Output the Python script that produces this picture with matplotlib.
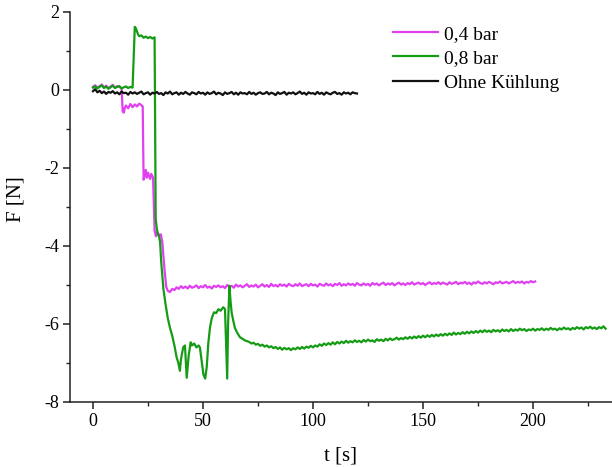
import numpy as np
import matplotlib.pyplot as plt
from matplotlib.ticker import MultipleLocator

plt.rcParams["font.family"] = ["Liberation Serif", "DejaVu Serif"]
plt.rcParams["axes.unicode_minus"] = False

# ---- data ----
labels = ["0,4 bar", "0,8 bar", "Ohne Kühlung"]
colors = ["#E040F0", "#159C15", "#111111"]

# 0,4 bar: start (1 s grid), transition (pairs), plateau (1 s grid from 38 s)
mag_start = [0.08, 0.12, 0.06, 0.10, 0.14, 0.07, 0.11, 0.05, 0.09, 0.13, 0.06, 0.10, 0.08, 0.04]
mag_trans_t = [13.5, 14, 14.5, 15, 16, 17, 18, 19, 20, 21, 22, 22.6, 23, 23.5, 24, 24.5, 25, 26,
               26.5, 27.3, 28, 28.6, 29.3, 30, 30.8, 31.5, 32.5, 33.3, 34, 35, 36, 37]
mag_trans_f = [-0.55, -0.58, -0.45, -0.40, -0.47, -0.36, -0.44, -0.37, -0.42, -0.35, -0.39, -0.42,
               -2.30, -2.20, -2.05, -2.25, -2.12, -2.28, -2.15, -2.25, -3.60, -3.75, -3.65, -3.72,
               -3.70, -3.90, -4.60, -5.05, -5.15, -5.18, -5.10, -5.13]
mag_flat = [-5.06, -5.10, -5.03, -5.08, -5.04, -5.09, -5.02, -5.07, -5.05, -5.01,
            -5.08, -5.03, -5.06, -5.00, -5.07, -5.04, -5.09, -5.02, -5.05, -5.01,
            -5.06, -5.03, -5.08, -5.00, -5.05, -5.02, -5.07, -4.99, -5.04, -5.01,
            -5.06, -5.02, -4.98, -5.05, -5.01, -5.04, -4.99, -5.06, -5.02, -4.98,
            -5.04, -5.00, -5.05, -4.97, -5.03, -5.00, -5.04, -4.98, -5.02, -4.99,
            -5.04, -4.97, -5.01, -5.03, -4.98, -5.02, -4.96, -5.03, -5.00, -4.98,
            -5.03, -4.97, -5.01, -4.99, -5.04, -4.97, -5.00, -5.02, -4.96, -5.01,
            -4.98, -5.03, -4.97, -5.00, -4.95, -5.02, -4.98, -5.01, -4.96, -5.00,
            -4.97, -5.02, -4.95, -4.99, -5.01, -4.96, -5.00, -4.97, -5.02, -4.95,
            -4.99, -4.96, -5.01, -4.97, -4.94, -5.00, -4.96, -4.99, -4.95, -5.01,
            -4.97, -4.94, -4.99, -4.96, -5.00, -4.95, -4.98, -4.93, -4.99, -4.96,
            -4.94, -4.98, -4.95, -5.00, -4.96, -4.93, -4.98, -4.95, -4.97, -4.93,
            -4.98, -4.94, -4.96, -4.99, -4.93, -4.97, -4.95, -4.92, -4.98, -4.94,
            -4.96, -4.92, -4.97, -4.94, -4.99, -4.93, -4.96, -4.91, -4.95, -4.97,
            -4.93, -4.96, -4.92, -4.95, -4.98, -4.93, -4.95, -4.91, -4.96, -4.94,
            -4.92, -4.96, -4.93, -4.90, -4.95, -4.92, -4.94, -4.91, -4.96, -4.92,
            -4.94, -4.90, -4.93, -4.91]

# 0,8 bar
grn_start = [0.06, 0.10, 0.04, 0.08, 0.12, 0.05, 0.09, 0.03, 0.07, 0.11,
             0.05, 0.08, 0.10, 0.04, 0.07, 0.09, 0.05, 0.08, 0.06]
grn_trans_t = [19, 19.5, 20, 20.5, 21, 22, 23, 24, 25, 26, 27, 28, 28.5, 29, 29.5, 30, 30.5,
               31, 32, 33, 34, 35, 36, 37, 38, 38.8, 39.5, 40, 41, 41.8, 42.6, 43.5, 44.4,
               45, 46, 47, 48, 48.6, 49.5, 50.2, 51, 51.7, 52.4, 53.2, 54, 55, 56, 57, 58,
               59.2, 60, 60.5, 61, 61.4, 62, 62.5, 63, 63.7, 64.5, 65.5, 66.8, 68, 69, 70]
grn_trans_f = [1.62, 1.58, 1.50, 1.42, 1.38, 1.40, 1.34, 1.37, 1.33, 1.36, 1.32, 1.35, -3.30,
               -3.55, -3.70, -3.75, -3.90, -4.40, -5.10, -5.50, -5.85, -6.10, -6.30, -6.55,
               -6.85, -7.00, -7.20, -6.90, -6.60, -6.55, -7.38, -6.80, -6.47, -6.55, -6.50,
               -6.60, -6.55, -6.60, -7.00, -7.30, -7.40, -7.10, -6.50, -6.08, -5.85, -5.70,
               -5.72, -5.62, -5.66, -5.57, -5.62, -6.50, -7.40, -6.00, -5.02, -5.40, -5.70,
               -5.90, -6.10, -6.22, -6.34, -6.38, -6.42, -6.44]
grn_flat = [-6.46, -6.50, -6.48, -6.53, -6.51, -6.56, -6.53, -6.58, -6.55, -6.60,
            -6.57, -6.62, -6.59, -6.64, -6.60, -6.66, -6.61, -6.65, -6.62, -6.67,
            -6.62, -6.65, -6.60, -6.64, -6.59, -6.63, -6.58, -6.61, -6.56, -6.60,
            -6.55, -6.58, -6.52, -6.56, -6.50, -6.54, -6.49, -6.53, -6.47, -6.52,
            -6.46, -6.50, -6.45, -6.49, -6.43, -6.48, -6.44, -6.47, -6.42, -6.46,
            -6.43, -6.47, -6.41, -6.45, -6.40, -6.44, -6.42, -6.46, -6.39, -6.43,
            -6.40, -6.44, -6.38, -6.42, -6.37, -6.41, -6.39, -6.35, -6.40, -6.36,
            -6.39, -6.34, -6.38, -6.33, -6.37, -6.32, -6.36, -6.31, -6.35, -6.30,
            -6.34, -6.29, -6.33, -6.28, -6.32, -6.27, -6.31, -6.26, -6.30, -6.25,
            -6.29, -6.24, -6.28, -6.22, -6.27, -6.23, -6.26, -6.21, -6.25, -6.20,
            -6.24, -6.19, -6.23, -6.18, -6.22, -6.17, -6.21, -6.16, -6.20, -6.17,
            -6.21, -6.15, -6.19, -6.16, -6.20, -6.14, -6.18, -6.15, -6.19, -6.13,
            -6.18, -6.14, -6.17, -6.12, -6.16, -6.13, -6.18, -6.14, -6.16, -6.12,
            -6.17, -6.13, -6.15, -6.11, -6.16, -6.12, -6.15, -6.10, -6.14, -6.12,
            -6.16, -6.11, -6.14, -6.09, -6.13, -6.11, -6.15, -6.10, -6.13, -6.08,
            -6.12, -6.09, -6.14, -6.08, -6.11, -6.07, -6.12, -6.09, -6.13, -6.08,
            -6.11, -6.06, -6.12]

# Ohne Kühlung (1 s grid, 0..120 s)
blk = [-0.03, 0.02, -0.06, -0.02, -0.08, -0.04, -0.10, -0.05, -0.07, -0.03,
       -0.09, -0.06, -0.11, -0.04, -0.08, -0.07, -0.12, -0.05, -0.09, -0.06,
       -0.10, -0.07, -0.04, -0.11, -0.08, -0.06, -0.12, -0.07, -0.09, -0.05,
       -0.10, -0.08, -0.13, -0.06, -0.09, -0.04, -0.11, -0.08, -0.06, -0.12,
       -0.07, -0.10, -0.05, -0.09, -0.12, -0.06, -0.08, -0.11, -0.05, -0.09,
       -0.07, -0.12, -0.06, -0.10, -0.08, -0.04, -0.11, -0.07, -0.09, -0.13,
       -0.06, -0.10, -0.08, -0.05, -0.11, -0.07, -0.12, -0.06, -0.09, -0.08,
       -0.11, -0.05, -0.10, -0.07, -0.12, -0.08, -0.06, -0.10, -0.09, -0.05,
       -0.11, -0.07, -0.09, -0.13, -0.06, -0.10, -0.08, -0.05, -0.12, -0.07,
       -0.09, -0.06, -0.11, -0.08, -0.04, -0.10, -0.07, -0.12, -0.06, -0.09,
       -0.08, -0.11, -0.05, -0.10, -0.07, -0.12, -0.06, -0.09, -0.11, -0.07,
       -0.05, -0.10, -0.08, -0.12, -0.06, -0.09, -0.07, -0.11, -0.06, -0.08,
       -0.09]

mag_t = np.concatenate([np.arange(len(mag_start)), mag_trans_t, 38 + np.arange(len(mag_flat))])
mag_f = np.concatenate([mag_start, mag_trans_f, mag_flat])
grn_t = np.concatenate([np.arange(len(grn_start)), grn_trans_t, 71 + np.arange(len(grn_flat))])
grn_f = np.concatenate([grn_start, grn_trans_f, grn_flat])
blk_t = np.arange(len(blk))

fig = plt.figure(figsize=(6.12, 4.67), dpi=100)
ax = fig.add_axes([70 / 612, 65 / 467, 1 - 70 / 612, (402 - 12) / 467])

for (t, f), lab, col in zip([(mag_t, mag_f), (grn_t, grn_f), (blk_t, blk)], labels, colors):
    ax.plot(t, f, color=col, lw=1.6, label=lab)

ax.set_xlim(-10.45, 235.9)
ax.set_ylim(-8, 2)
ax.xaxis.set_major_locator(MultipleLocator(50))
ax.xaxis.set_minor_locator(MultipleLocator(25))
ax.yaxis.set_major_locator(MultipleLocator(2))
ax.yaxis.set_minor_locator(MultipleLocator(1))

for side in ["top", "right"]:
    ax.spines[side].set_visible(False)
for side in ["left", "bottom"]:
    ax.spines[side].set_linewidth(1.1)
    ax.spines[side].set_color("#222222")

ax.tick_params(which="major", direction="out", length=5, width=1.1, color="#222222",
               labelsize=13, pad=3)
ax.tick_params(which="minor", direction="out", length=3, width=1.0, color="#222222")

ax.set_xlabel("t [s]", fontsize=15)
ax.set_ylabel("F [N]", fontsize=15)
ax.xaxis.set_label_coords(0.5, -0.113)
ax.yaxis.set_label_coords(-0.082, 0.52)

ax.legend(loc="upper left", bbox_to_anchor=(393 / 612, 1 - 25 / 467),
          bbox_transform=fig.transFigure, frameon=False, fontsize=14,
          handlelength=2.3, handletextpad=0.3, labelspacing=0.36,
          borderpad=0, borderaxespad=0)

fig.savefig("out.png", dpi=100)
